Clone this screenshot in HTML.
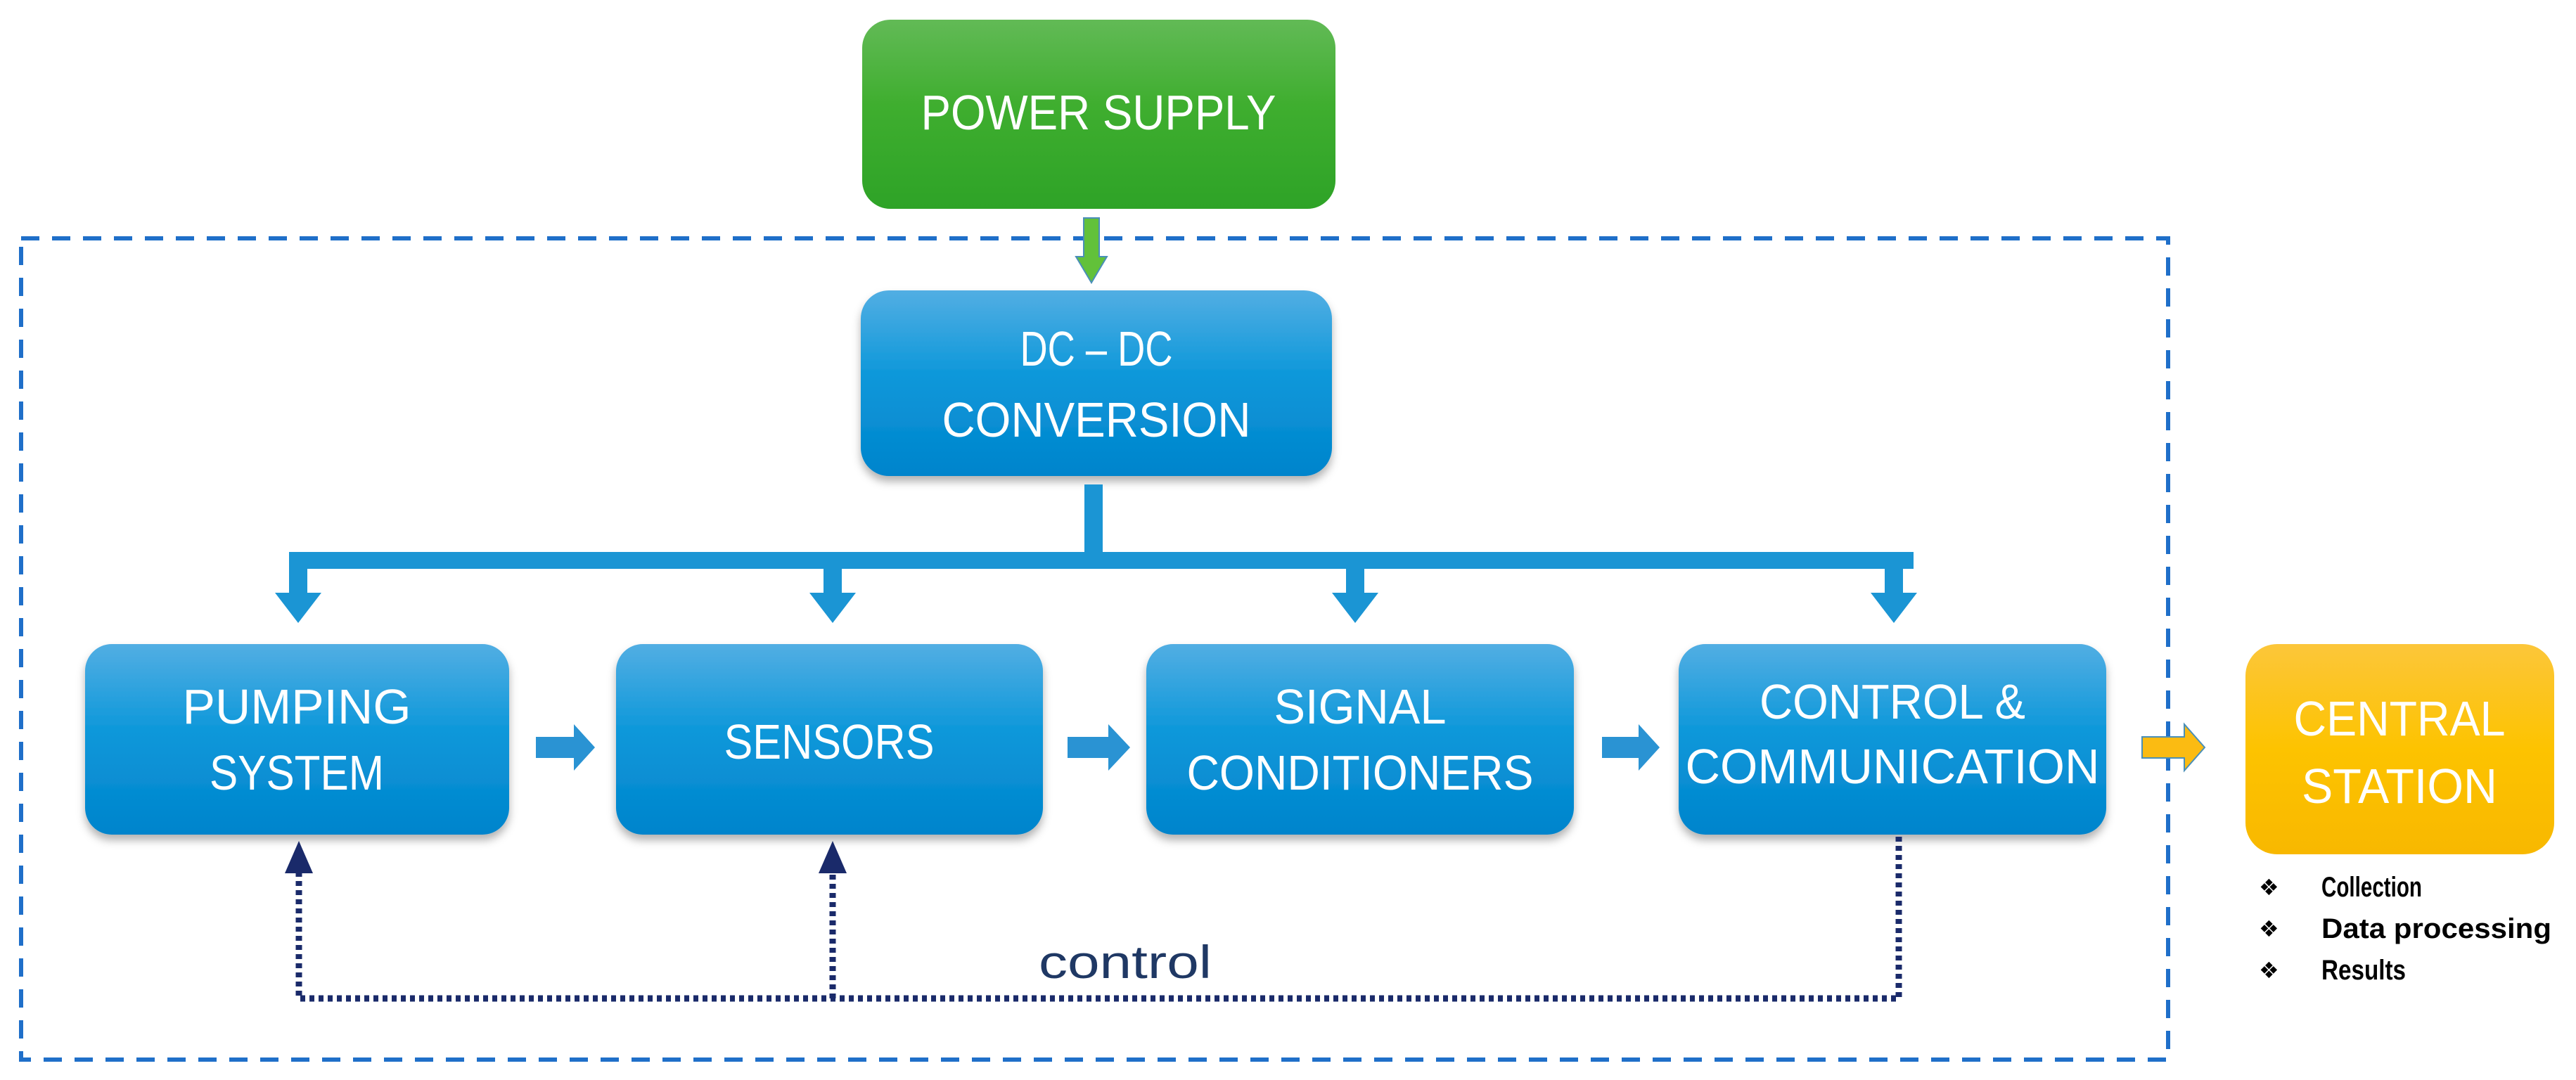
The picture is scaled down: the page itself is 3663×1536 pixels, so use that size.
<!DOCTYPE html>
<html><head><meta charset="utf-8"><style>html,body{margin:0;padding:0;background:#fff}svg{display:block}</style></head>
<body>
<svg width="3663" height="1536" viewBox="0 0 3663 1536" xmlns="http://www.w3.org/2000/svg" font-family="Liberation Sans Narrow, Liberation Sans, sans-serif">
<defs>
<linearGradient id="gb" x1="0" y1="0" x2="0" y2="1"><stop offset="0" stop-color="#52aee3"/><stop offset="0.45" stop-color="#0e98da"/><stop offset="1" stop-color="#0084cc"/></linearGradient>
<linearGradient id="gg" x1="0" y1="0" x2="0" y2="1"><stop offset="0" stop-color="#62ba56"/><stop offset="0.45" stop-color="#3fae2f"/><stop offset="1" stop-color="#2ea327"/></linearGradient>
<linearGradient id="go" x1="0" y1="0" x2="0" y2="1"><stop offset="0" stop-color="#fcc63a"/><stop offset="0.5" stop-color="#fdc300"/><stop offset="1" stop-color="#f8b800"/></linearGradient>
<filter id="sh" x="-5%" y="-5%" width="110%" height="120%"><feDropShadow dx="0" dy="8" stdDeviation="6" flood-color="#000" flood-opacity="0.3"/></filter>
</defs>
<rect x="30" y="339" width="3053" height="1168" fill="none" stroke="#1f6fc9" stroke-width="6" stroke-dasharray="26 18"/>
<rect x="1226" y="28" width="673" height="269" rx="40" fill="url(#gg)"/>
<text x="1562" y="184" fill="#fff" font-size="70" text-anchor="middle" textLength="505" lengthAdjust="spacingAndGlyphs">POWER SUPPLY</text>
<path d="M1541 310 H1563 V365 H1574 L1552 402 L1530 365 H1541 Z" fill="#62c13a" stroke="#4a8fb8" stroke-width="2"/>
<rect x="1224" y="413" width="670" height="264" rx="40" fill="url(#gb)" filter="url(#sh)"/>
<text x="1559" y="520" fill="#fff" font-size="70" text-anchor="middle" textLength="217" lengthAdjust="spacingAndGlyphs">DC – DC</text>
<text x="1559" y="621" fill="#fff" font-size="70" text-anchor="middle" textLength="439" lengthAdjust="spacingAndGlyphs">CONVERSION</text>
<g fill="#1b95d4">
<rect x="1542" y="689" width="26" height="110"/>
<rect x="411" y="785" width="2310" height="24"/>
<path d="M411 785 H437 V843 H457 L424 886 L391 843 H411 Z"/>
<path d="M1171 785 H1197 V843 H1217 L1184 886 L1151 843 H1171 Z"/>
<path d="M1914 785 H1940 V843 H1960 L1927 886 L1894 843 H1914 Z"/>
<path d="M2680 785 H2706 V843 H2726 L2693 886 L2660 843 H2680 Z"/>
</g>
<g filter="url(#sh)">
<rect x="121" y="916" width="603" height="271" rx="38" fill="url(#gb)"/>
<rect x="876" y="916" width="607" height="271" rx="38" fill="url(#gb)"/>
<rect x="1630" y="916" width="608" height="271" rx="38" fill="url(#gb)"/>
<rect x="2387" y="916" width="608" height="271" rx="38" fill="url(#gb)"/>
</g>
<g fill="#fff" font-size="70" text-anchor="middle">
<text x="422" y="1029" textLength="325" lengthAdjust="spacingAndGlyphs">PUMPING</text>
<text x="422" y="1123" textLength="248" lengthAdjust="spacingAndGlyphs">SYSTEM</text>
<text x="1179" y="1079" textLength="299" lengthAdjust="spacingAndGlyphs">SENSORS</text>
<text x="1934" y="1029" textLength="245" lengthAdjust="spacingAndGlyphs">SIGNAL</text>
<text x="1934" y="1123" textLength="493" lengthAdjust="spacingAndGlyphs">CONDITIONERS</text>
<text x="2691" y="1022" textLength="378" lengthAdjust="spacingAndGlyphs">CONTROL &amp;</text>
<text x="2691" y="1114" textLength="589" lengthAdjust="spacingAndGlyphs">COMMUNICATION</text>
</g>
<g fill="#2a93d3">
<path d="M762 1048 H816 V1030 L846 1063 L816 1096 V1078 H762 Z"/>
<path d="M1518 1048 H1576 V1030 L1607 1063 L1576 1096 V1078 H1518 Z"/>
<path d="M2278 1048 H2330 V1030 L2360 1063 L2330 1096 V1078 H2278 Z"/>
</g>
<path d="M3046 1048 H3106 V1030 L3135 1063 L3106 1096 V1078 H3046 Z" fill="#fbbb12" stroke="#4a8fb8" stroke-width="2"/>
<rect x="3193" y="916" width="439" height="299" rx="45" fill="url(#go)"/>
<text x="3412" y="1046" fill="#fff" font-size="70" text-anchor="middle" textLength="301" lengthAdjust="spacingAndGlyphs">CENTRAL</text>
<text x="3412" y="1142" fill="#fff" font-size="70" text-anchor="middle" textLength="278" lengthAdjust="spacingAndGlyphs">STATION</text>
<g font-size="40" font-weight="bold" fill="#000">
<text x="3212" y="1273" font-family="DejaVu Sans, sans-serif" font-size="32">❖</text>
<text x="3212" y="1332" font-family="DejaVu Sans, sans-serif" font-size="32">❖</text>
<text x="3212" y="1391" font-family="DejaVu Sans, sans-serif" font-size="32">❖</text>
<text x="3301" y="1275" textLength="143" lengthAdjust="spacingAndGlyphs">Collection</text>
<text x="3301" y="1334" textLength="327" lengthAdjust="spacingAndGlyphs">Data processing</text>
<text x="3301" y="1393" textLength="120" lengthAdjust="spacingAndGlyphs">Results</text>
</g>
<g stroke="#1a2a6a" stroke-width="9" fill="none" stroke-dasharray="7 6">
<path d="M2700 1190 V1420 H425 V1240"/>
<path d="M1184 1420 V1240"/>
</g>
<path d="M425 1196 L405 1242 H445 Z" fill="#1a2a6a"/>
<path d="M1184 1196 L1164 1242 H1204 Z" fill="#1a2a6a"/>
<text x="1600" y="1391" fill="#1f3864" font-size="66" font-family="Liberation Sans, sans-serif" text-anchor="middle" textLength="246" lengthAdjust="spacingAndGlyphs">control</text>
</svg>
</body></html>
